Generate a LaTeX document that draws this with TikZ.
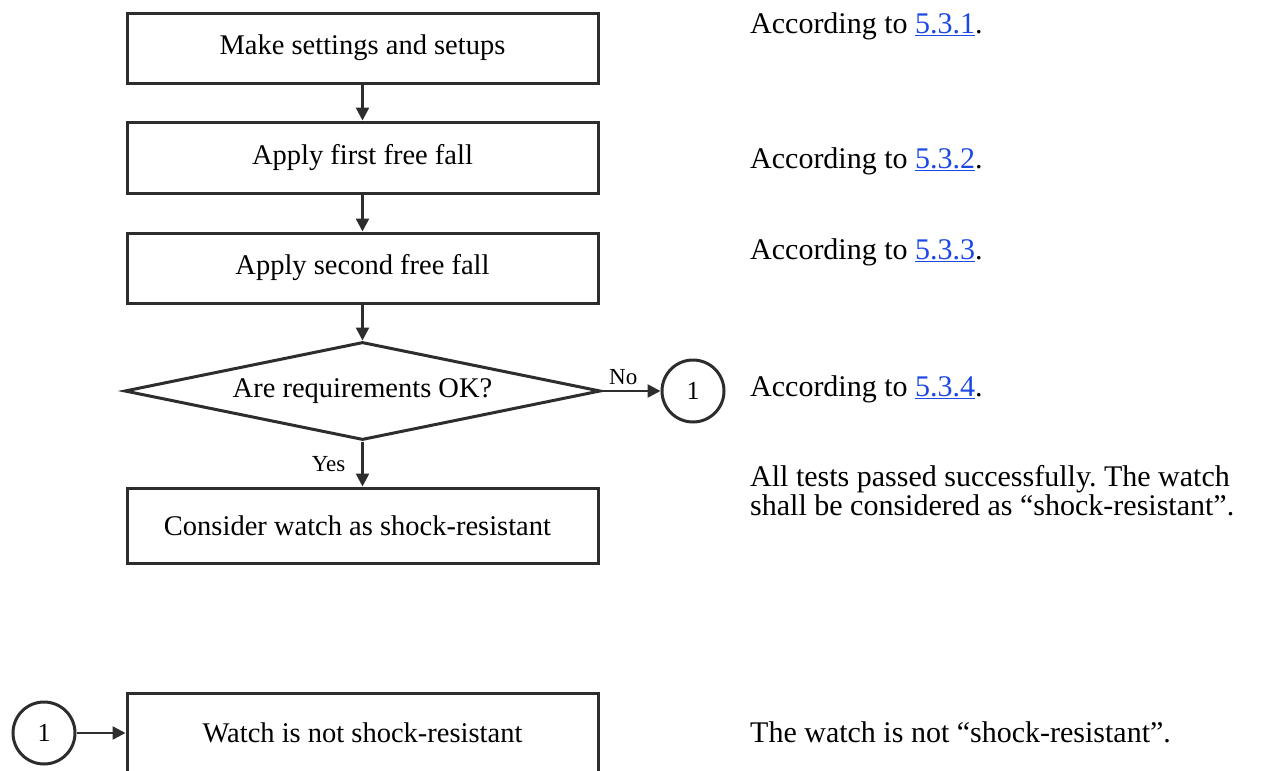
\documentclass[tikz,border=0pt]{standalone}
\usepackage{fontspec}
\setmainfont{Liberation Serif}
\usetikzlibrary{arrows.meta,shapes.geometric}
\definecolor{linkblue}{RGB}{28,72,228}
\definecolor{edge}{RGB}{45,45,45}
\frenchspacing
\begin{document}
\begin{tikzpicture}[x=1pt,y=-1pt,
  stepbox/.style={draw=edge, line width=3pt, minimum width=471pt, inner sep=0pt,
    font=\fontsize{28.5}{30}\selectfont},
  decision/.style={draw=edge, line width=3pt, diamond, shape aspect=4.87, inner sep=0pt,
    minimum width=476pt, minimum height=98pt, font=\fontsize{28.5}{30}\selectfont},
  connector/.style={draw=edge, line width=3pt, circle, minimum size=62pt, inner sep=0pt,
    font=\fontsize{26}{28}\selectfont},
  flow/.style={draw=edge, line width=2.5pt, -{Triangle[length=13pt,width=13pt]}},
  lbl/.style={font=\fontsize{23}{25}\selectfont, inner sep=0pt},
  note/.style={anchor=base west, inner sep=0pt, align=left,
    font=\fontsize{30}{29}\selectfont}
]
\useasboundingbox (0,0) rectangle (1264,771);
\clip (0,0) rectangle (1264,771);

% flowchart
\node[stepbox, minimum height=70pt] (b1) at (362.5,48) {Make settings and setups};
\node[stepbox, minimum height=71pt] (b2) at (362.5,157.5) {Apply first free fall};
\node[stepbox, minimum height=70pt] (b3) at (362.5,268) {Apply second free fall};
\node[decision] (dia) at (362.5,391) {Are requirements OK?};
\node[stepbox, minimum height=75pt] (b4) at (362.5,525.5) {\hspace*{-10pt}Consider watch as shock-resistant};
\node[connector] (c1) at (693,391) {1};
\node[connector] (c2) at (44,733) {1};
\node[stepbox, minimum height=80pt] (b5) at (362.5,733) {Watch is not shock-resistant};

\draw[flow] (b1.south) -- (b2.north);
\draw[flow] (b2.south) -- (b3.north);
\draw[flow] (b3.south) -- (dia.north);
\draw[flow] (dia.south) -- node[lbl, midway, left, xshift=-16pt] (yes) {Yes} (b4.north);
\draw[flow] (dia.east) -- node[lbl, midway, above, yshift=5pt, xshift=-8pt] (no) {No} (c1.west);
\draw[flow] (c2.east) -- (b5.west);

% notes
\node[note] (t1) at (750,33) {According to \textcolor{linkblue}{\underline{5.3.1}}.};
\node[note] (t2) at (750,168) {According to \textcolor{linkblue}{\underline{5.3.2}}.};
\node[note] (t3) at (750,259) {According to \textcolor{linkblue}{\underline{5.3.3}}.};
\node[note] (t4) at (750,396) {According to \textcolor{linkblue}{\underline{5.3.4}}.};
\node[note] (t5) at (750,515) {All tests passed successfully. The watch\\shall be considered as “shock-resistant”.};
\node[note] (t6) at (750,742) {The watch is not “shock-resistant”.};
\end{tikzpicture}
\end{document}
